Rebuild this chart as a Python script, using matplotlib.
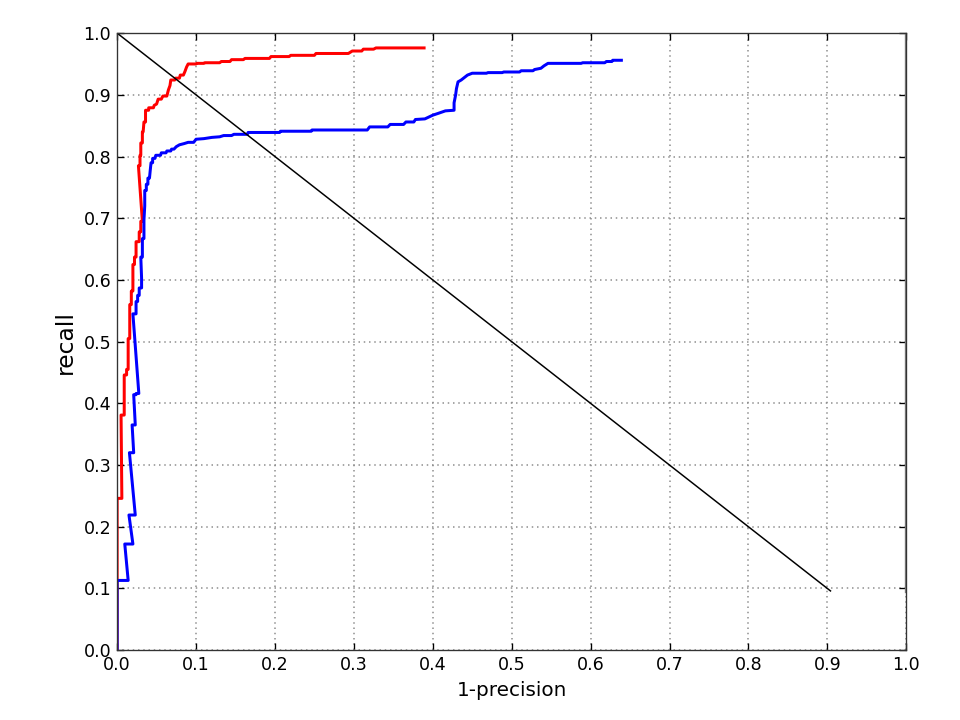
import numpy as np
import matplotlib.pyplot as plt

# staircase vertices of the two precision/recall curves
red_fpr = [0, 0, 0.006, 0.005, 0.009, 0.009, 0.012, 0.012, 0.014, 0.014, 0.016, 0.016,
           0.018, 0.018, 0.020, 0.020, 0.022, 0.022, 0.024, 0.024, 0.028, 0.028, 0.030,
           0.030, 0.032, 0.027, 0.029, 0.029, 0.030, 0.030, 0.032, 0.032, 0.033, 0.034,
           0.036, 0.036, 0.040, 0.040, 0.046, 0.047, 0.050, 0.052, 0.056, 0.058, 0.063,
           0.065, 0.067, 0.068, 0.073, 0.074, 0.079, 0.080, 0.084, 0.086, 0.088, 0.090,
           0.100, 0.101, 0.110, 0.111, 0.130, 0.132, 0.143, 0.145, 0.160, 0.162, 0.193,
           0.195, 0.218, 0.220, 0.250, 0.252, 0.293, 0.298, 0.310, 0.312, 0.325, 0.328,
           0.389]
red_recall = [0, 0.246, 0.246, 0.381, 0.381, 0.446, 0.446, 0.455, 0.455, 0.505, 0.505, 0.560,
              0.560, 0.582, 0.582, 0.625, 0.625, 0.637, 0.637, 0.662, 0.662, 0.678, 0.678,
              0.695, 0.695, 0.785, 0.785, 0.802, 0.802, 0.822, 0.822, 0.840, 0.840, 0.856,
              0.856, 0.875, 0.875, 0.879, 0.879, 0.883, 0.885, 0.893, 0.893, 0.898, 0.898,
              0.908, 0.915, 0.924, 0.924, 0.927, 0.927, 0.932, 0.932, 0.938, 0.945, 0.950,
              0.950, 0.951, 0.951, 0.952, 0.952, 0.954, 0.954, 0.957, 0.957, 0.959, 0.959,
              0.962, 0.962, 0.964, 0.964, 0.967, 0.967, 0.971, 0.971, 0.974, 0.974, 0.976,
              0.976]

blue_fpr = [0, 0, 0.014, 0.0097, 0.020, 0.015, 0.023, 0.0156, 0.021, 0.019, 0.023, 0.021,
            0.024, 0.024, 0.0275, 0.020, 0.024, 0.024, 0.026, 0.026, 0.028, 0.028, 0.031,
            0.031, 0.030, 0.032, 0.032, 0.034, 0.034, 0.035, 0.035, 0.037, 0.037, 0.039,
            0.039, 0.041, 0.042, 0.043, 0.045, 0.045, 0.048, 0.049, 0.055, 0.056, 0.062,
            0.063, 0.068, 0.069, 0.072, 0.075, 0.079, 0.085, 0.090, 0.097, 0.100, 0.110,
            0.120, 0.130, 0.135, 0.145, 0.148, 0.165, 0.166, 0.206, 0.207, 0.246, 0.247,
            0.317, 0.320, 0.343, 0.346, 0.363, 0.366, 0.376, 0.378, 0.390, 0.400, 0.407,
            0.416, 0.427, 0.427, 0.429, 0.430, 0.432, 0.436, 0.438, 0.444, 0.450, 0.468,
            0.470, 0.488, 0.490, 0.510, 0.512, 0.527, 0.529, 0.537, 0.541, 0.546, 0.588,
            0.590, 0.618, 0.620, 0.627, 0.628, 0.639]
blue_recall = [0, 0.113, 0.113, 0.172, 0.172, 0.219, 0.219, 0.320, 0.320, 0.365, 0.365, 0.414,
               0.414, 0.416, 0.416, 0.545, 0.545, 0.565, 0.565, 0.575, 0.575, 0.587, 0.587,
               0.603, 0.637, 0.637, 0.667, 0.667, 0.697, 0.720, 0.745, 0.745, 0.755, 0.755,
               0.765, 0.765, 0.778, 0.790, 0.790, 0.797, 0.797, 0.802, 0.802, 0.806, 0.806,
               0.809, 0.809, 0.812, 0.812, 0.816, 0.819, 0.821, 0.823, 0.823, 0.828, 0.829,
               0.831, 0.832, 0.834, 0.834, 0.836, 0.836, 0.839, 0.839, 0.841, 0.841, 0.843,
               0.843, 0.848, 0.848, 0.852, 0.852, 0.856, 0.856, 0.860, 0.861, 0.867, 0.870,
               0.874, 0.875, 0.887, 0.900, 0.910, 0.921, 0.924, 0.926, 0.932, 0.935, 0.935,
               0.936, 0.936, 0.937, 0.937, 0.939, 0.939, 0.941, 0.943, 0.947, 0.951, 0.951,
               0.952, 0.952, 0.954, 0.954, 0.956, 0.956]

# reference line y = 1 - x
diag_x = [0.0, 0.904]
diag_y = [1.0, 0.096]

ticks = np.arange(0, 1.01, 0.1)

fig = plt.figure(figsize=(8, 6), dpi=120)
ax = fig.add_axes([0.122, 0.097, 0.822, 0.857])

ax.plot(red_fpr, red_recall, color='red', lw=1.8)
ax.plot(blue_fpr, blue_recall, color='blue', lw=1.8)
ax.plot(diag_x, diag_y, color='black', lw=0.9)
ax.plot([1, 1], [0.096, 1], color='gray', lw=2)

ax.set_xlim(0, 1)
ax.set_ylim(0, 1)
ax.set_xticks(ticks)
ax.set_yticks(ticks)
ax.set_xticklabels(['%.1f' % t for t in ticks])
ax.set_yticklabels(['%.1f' % t for t in ticks])
ax.tick_params(direction='in', top=True, right=True, length=4, labelsize=10.5)
ax.grid(True, color='#8c8c8c', linestyle=(0, (1, 2.5)), lw=0.9)
for s in ax.spines.values():
    s.set_color('#333333')

ax.set_xlabel('1-precision', fontsize=12)
ax.set_ylabel('recall', fontsize=14)

fig.savefig('out.png')
